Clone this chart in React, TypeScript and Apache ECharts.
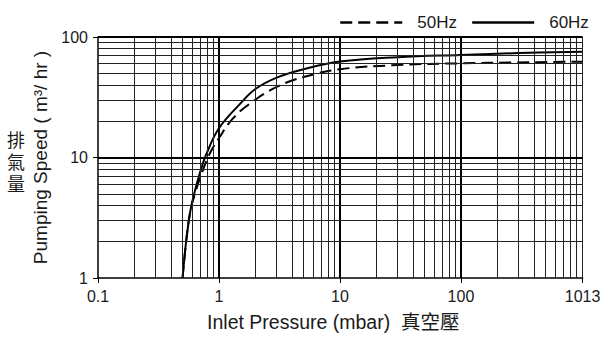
import React, { useEffect, useRef } from 'react';
import * as echarts from 'echarts';

// 60 Hz curve (solid)
const solidX = [0.5, 0.535, 0.58, 0.63, 0.7, 0.79, 1, 1.5, 2, 3, 5, 10, 30, 100, 300, 1013];
const solidY = [1, 2, 3.6, 5.2, 7.6, 10.8, 17.5, 28, 37, 46, 54, 62.5, 68, 71, 73.5, 75.5];

// 50 Hz curve (dashed)
const dashedX = [0.5, 0.535, 0.58, 0.64, 0.72, 0.84, 1, 1.3, 1.8, 3, 5, 10, 30, 100, 300, 1013];
const dashedY = [1, 2, 3.6, 5.2, 7.4, 10.8, 14.5, 21, 28, 38.5, 46.5, 54, 58.5, 60.5, 61.5, 62.4];

// grid lines
const xMinorGrid = [
  0.2, 0.3, 0.4, 0.5, 0.6, 0.7, 0.8, 0.9,
  2, 3, 4, 5, 6, 7, 8, 9,
  20, 30, 40, 50, 60, 70, 80, 90,
  200, 300, 400, 500, 600, 700, 800, 900, 1000, 1013,
];
const xMajorGrid = [1, 10, 100];
const yMinorGrid = [2, 3, 4, 5, 6, 7, 8, 9, 20, 30, 40, 50, 60, 70, 80, 90];
const yMajorGrid = [10, 100];

const xTickLabels = ['0.1', '1', '10', '100', '1013'];
const yTickLabels = ['1', '10', '100'];
const cjkTitle = ['排', '氣', '量'];

const FONT = "'Liberation Sans', Arial, 'Noto Sans CJK TC', sans-serif";

export default function App() {
  const ref = useRef<HTMLDivElement>(null);
  useEffect(() => {
    if (!ref.current) return;
    const chart = echarts.init(ref.current, undefined, { renderer: 'svg' });
    const fmt = (labels: string[]) => (v: number) => {
      const m = labels.find((t) => Math.abs(Number(t) - v) / Number(t) < 1e-4);
      return m ?? '';
    };
    const gridLines = [
      ...xMinorGrid.map((v) => ({ xAxis: v, lineStyle: { width: 1, color: '#222' } })),
      ...xMajorGrid.map((v) => ({ xAxis: v, lineStyle: { width: 2, color: '#000' } })),
      ...yMinorGrid.map((v) => ({ yAxis: v, lineStyle: { width: 1, color: '#222' } })),
      ...yMajorGrid.map((v) => ({ yAxis: v, lineStyle: { width: 2, color: '#000' } })),
    ];
    chart.setOption({
      animation: false,
      textStyle: { fontFamily: FONT },
      grid: { left: 98, right: 23.4, top: 37, bottom: 65 },
      legend: {
        data: ['50Hz', '60Hz'],
        left: 334,
        top: 9,
        itemWidth: 62,
        itemHeight: 14,
        itemGap: 14,
        textStyle: { fontSize: 17, color: '#1a1a1a', fontFamily: FONT, padding: [0, 0, 0, 10] },
        lineStyle: { width: 2.5 },
        itemStyle: { opacity: 0, borderWidth: 0 },
      },
      xAxis: {
        type: 'log',
        logBase: 10,
        min: 0.1,
        max: 1013,
        splitLine: { show: false },
        axisLine: { lineStyle: { color: '#000', width: 1.5 } },
        axisTick: { show: true, length: 5, lineStyle: { color: '#000', width: 1 } },
        axisLabel: { margin: 10, fontSize: 16, color: '#1a1a1a', formatter: fmt(xTickLabels) },
        name: 'Inlet Pressure (mbar)  真空壓',
        nameLocation: 'middle',
        nameGap: 34,
        nameTextStyle: { fontSize: 19.5, color: '#1a1a1a', padding: [0, 14, 0, 0] },
      },
      yAxis: {
        type: 'log',
        logBase: 10,
        min: 1,
        max: 100,
        splitLine: { show: false },
        axisLine: { lineStyle: { color: '#000', width: 1.5 } },
        axisTick: { show: true, length: 5, lineStyle: { color: '#000', width: 1 } },
        axisLabel: { margin: 10, fontSize: 16, color: '#1a1a1a', formatter: fmt(yTickLabels) },
        name: 'Pumping Speed ( m³/ hr )',
        nameLocation: 'middle',
        nameGap: 48,
        nameRotate: 90,
        nameTextStyle: { fontSize: 19, color: '#1a1a1a' },
      },
      graphic: cjkTitle.map((ch, i) => ({
        type: 'text',
        left: 7,
        top: 131 + i * 22,
        style: {
          text: ch,
          fontSize: 18,
          lineHeight: 20,
          fill: '#1a1a1a',
          fontFamily: FONT,
        },
      })),
      series: [
        {
          type: 'line',
          name: 'gridlines',
          data: [],
          silent: true,
          z: 1,
          markLine: {
            silent: true,
            symbol: ['none', 'none'],
            label: { show: false },
            lineStyle: { type: 'solid' },
            emphasis: { disabled: true },
            data: gridLines,
          },
        },
        {
          type: 'line',
          name: '50Hz',
          data: dashedX.map((x, i) => [x, dashedY[i]]),
          showSymbol: false,
          symbol: 'none',
          smooth: 0.4,
          z: 3,
          lineStyle: { color: '#000', width: 2, type: [12, 6] },
          itemStyle: { color: '#000' },
        },
        {
          type: 'line',
          name: '60Hz',
          data: solidX.map((x, i) => [x, solidY[i]]),
          showSymbol: false,
          symbol: 'none',
          smooth: 0.4,
          z: 3,
          lineStyle: { color: '#000', width: 2, type: 'solid' },
          itemStyle: { color: '#000' },
        },
      ],
    });
    return () => chart.dispose();
  }, []);
  return (
    <div
      ref={ref}
      style={{ position: 'fixed', left: 0, top: 0, width: 606, height: 343, background: '#fff' }}
    />
  );
}
